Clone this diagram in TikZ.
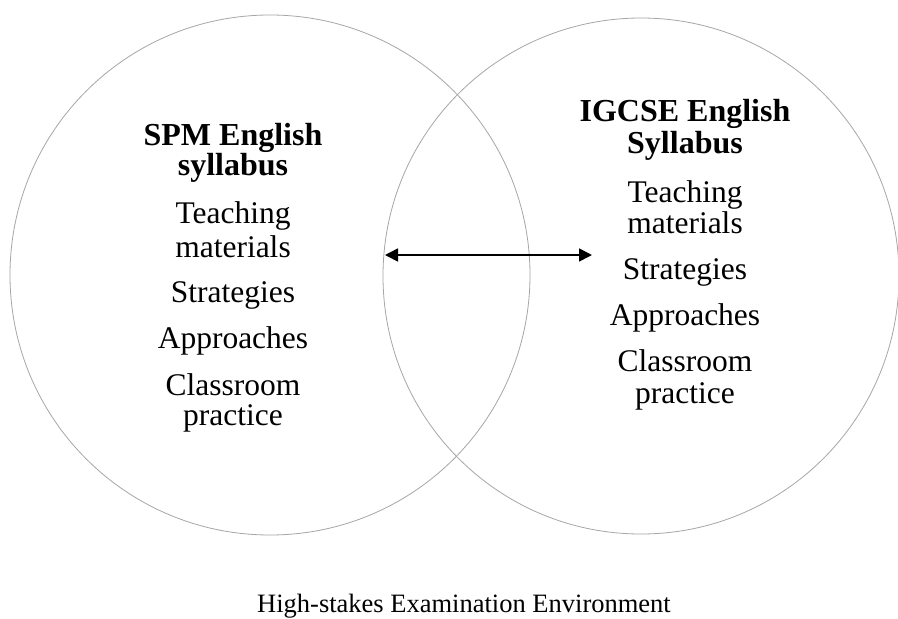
\documentclass[tikz,border=0pt]{standalone}
\usepackage{fontspec}
\setmainfont{Liberation Serif}
\usetikzlibrary{arrows.meta}
\begin{document}
\begin{tikzpicture}[x=1pt,y=-1pt,
  ring/.style={draw=black!35,line width=0.8pt},
  head/.style={anchor=base,inner sep=0pt,font=\fontsize{32}{34}\selectfont\bfseries},
  item/.style={anchor=base,inner sep=0pt,font=\fontsize{31.5}{34}\selectfont},
  foot/.style={anchor=base,inner sep=0pt,font=\fontsize{26.5}{28}\selectfont},
  link/.style={line width=1.6pt,{Triangle[length=13pt,width=13pt]}-{Triangle[length=13pt,width=13pt]}}]
\useasboundingbox (0,0) rectangle (898,619);
\fill[white] (0,0) rectangle (898,619);
\draw[ring] (270,275) circle[radius=260];
\draw[ring] (641,276) circle[radius=258];
% left
\node[head] (a1) at (233,145) {SPM English};
\node[head] (a2) at (233,175) {syllabus};
\node[item] (a3) at (233,223) {Teaching};
\node[item] (a4) at (233,257) {materials};
\node[item] (a5) at (233,302) {Strategies};
\node[item] (a6) at (233,348) {Approaches};
\node[item] (a7) at (233,395) {Classroom};
\node[item] (a8) at (233,425) {practice};
% right
\node[head] (b1) at (685,121) {IGCSE English};
\node[head] (b2) at (685,153) {Syllabus};
\node[item] (b3) at (685,202) {Teaching};
\node[item] (b4) at (685,233) {materials};
\node[item] (b5) at (685,279) {Strategies};
\node[item] (b6) at (685,325) {Approaches};
\node[item] (b7) at (685,371) {Classroom};
\node[item] (b8) at (685,403) {practice};
\node[foot] (c) at (464,612) {High-stakes Examination Environment};
\coordinate (p) at (385,255);
\coordinate (q) at (592,255);
\draw[link] (p) -- (q);
\end{tikzpicture}
\end{document}
